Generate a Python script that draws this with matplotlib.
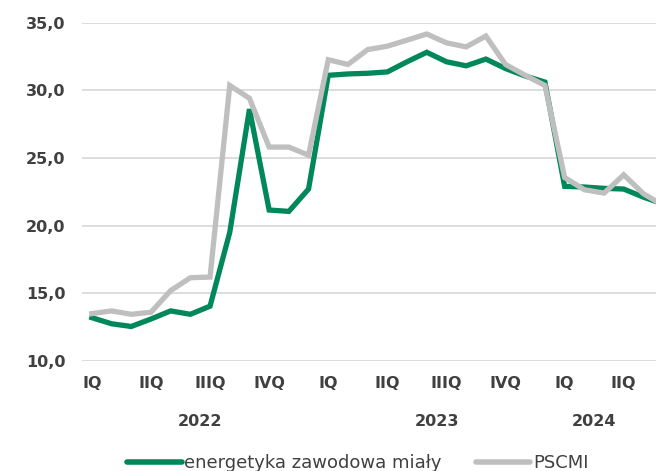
import matplotlib
matplotlib.use("Agg")
import matplotlib.pyplot as plt
import matplotlib.transforms as mtransforms

# ---- data ----
quarter_labels = ["IQ", "IIQ", "IIIQ", "IVQ"]
years = ["2022", "2023", "2024"]
year_centers = [5.5, 17.5, 25.5]

energetyka = [13.2, 12.75, 12.55, 13.1, 13.7, 13.45, 14.05, 19.5, 28.6, 21.15,
              21.05, 22.7, 31.1, 31.2, 31.25, 31.35, 32.1, 32.8, 32.1, 31.8,
              32.3, 31.6, 31.05, 30.6, 22.9, 22.85, 22.75, 22.7, 22.1, 21.6]
pscmi = [13.5, 13.7, 13.45, 13.6, 15.2, 16.15, 16.2, 30.35, 29.4, 25.8,
         25.8, 25.2, 32.25, 31.9, 33.0, 33.25, 33.7, 34.15, 33.5, 33.2,
         34.0, 31.9, 31.1, 30.35, 23.55, 22.65, 22.4, 23.75, 22.35, 21.5]
series_names = ["energetyka zawodowa miały", "PSCMI"]

GREEN = "#00875A"
GRAY = "#BFBFBF"
TXT = "#404040"

W, H = 656, 471
fig = plt.figure(figsize=(W / 100, H / 100), dpi=100)
ax = fig.add_axes([82 / W, (H - 361) / H, (W - 82) / W, (361 - 22.5) / H])

x = list(range(len(energetyka)))
ax.plot(x, energetyka, color=GREEN, lw=3.8, solid_joinstyle="miter", label=series_names[0], zorder=3)
ax.plot(x, pscmi, color=GRAY, lw=3.8, solid_joinstyle="miter", label=series_names[1], zorder=4)

ax.set_xlim(-0.5, (W - 82) / 19.7 - 0.5)
ax.set_ylim(10, 35)
ax.set_yticks([10, 15, 20, 25, 30, 35])
ax.set_yticklabels([f"{v:.1f}".replace(".", ",") for v in [10, 15, 20, 25, 30, 35]])
ticks = list(range(0, len(energetyka), 3))
ax.set_xticks(ticks)
ax.set_xticklabels([quarter_labels[(t // 3) % 4] for t in ticks])

ax.grid(axis="y", color="#DADADA", lw=1.3)
ax.set_axisbelow(True)
for s in ax.spines.values():
    s.set_visible(False)
ax.tick_params(axis="both", length=0, colors=TXT, labelsize=11.5)
ax.tick_params(axis="y", pad=12)
ax.tick_params(axis="x", pad=11)
for lab in ax.get_xticklabels() + ax.get_yticklabels():
    lab.set_fontweight("bold")

trans = mtransforms.blended_transform_factory(ax.transData, fig.transFigure)
for yr, xc in zip(years, year_centers):
    ax.text(xc, (H - 421) / H, yr, transform=trans, ha="center", va="center",
            fontsize=11.5, fontweight="bold", color=TXT, clip_on=False)

leg = fig.legend(loc="center", bbox_to_anchor=(358 / W, (H - 463) / H), ncol=2,
                 frameon=False, fontsize=13, handlelength=3.0, handletextpad=0.15,
                 columnspacing=1.9, labelcolor=TXT)
for h in leg.get_lines():
    h.set_linewidth(4)
    h.set_solid_capstyle("round")

fig.savefig("out.png", dpi=100)
